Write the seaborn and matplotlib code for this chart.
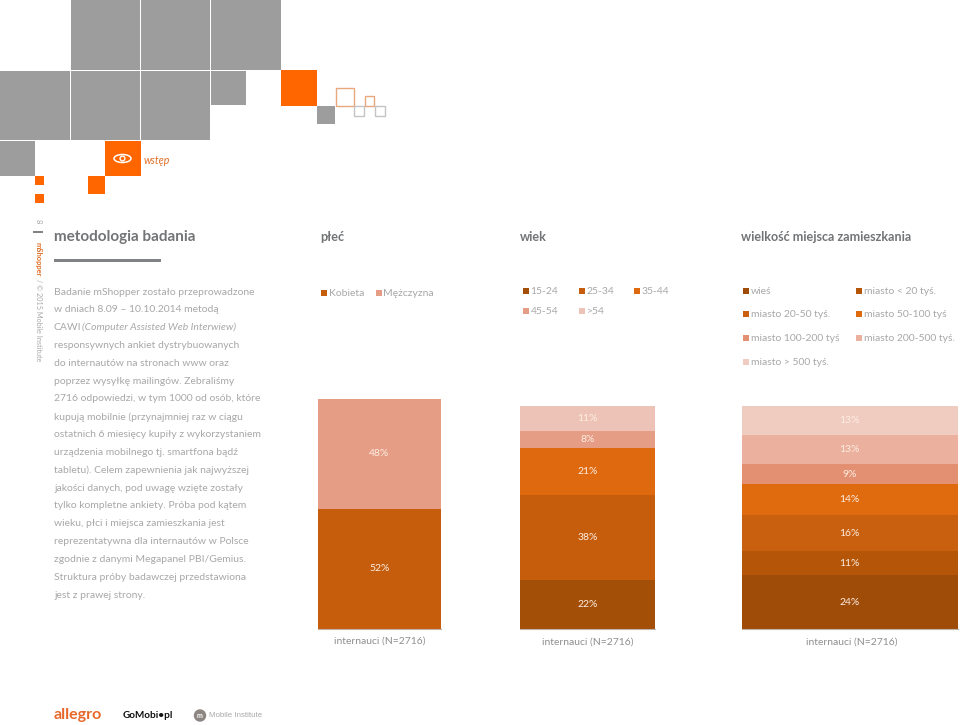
import matplotlib
matplotlib.use('Agg')
import matplotlib.pyplot as plt
from matplotlib.patches import Rectangle, Ellipse, Circle
from matplotlib.transforms import ScaledTranslation
import seaborn as sns

W, H = 960, 725

# values, bottom segment first
plec_labels = ['Kobieta', 'Mężczyzna']
plec_values = [52, 48]
plec_colors = ['#c55d0c', '#e59d85']

wiek_labels = ['15-24', '25-34', '35-44', '45-54', '>54']
wiek_values = [22, 38, 21, 8, 11]
wiek_colors = ['#a44f08', '#c55d0c', '#df690f', '#e59d85', '#eec3b7']

miejsce_labels = ['wieś', 'miasto < 20 tyś.', 'miasto 20-50 tyś.', 'miasto 50-100 tyś',
                  'miasto 100-200 tyś', 'miasto 200-500 tyś.', 'miasto > 500 tyś.']
miejsce_values = [24, 11, 16, 14, 9, 13, 13]
miejsce_colors = ['#9e4c08', '#b45508', '#c9600f', '#e06a0e', '#e38f72', '#ebb09e', '#f0cbbf']

sample_label = 'internauci (N=2716)'

body_lines = [
    'Badanie mShopper zostało przeprowadzone',
    'w dniach 8.09 – 10.10.2014 metodą',
    'CAWI',
    'responsywnych ankiet dystrybuowanych',
    'do internautów na stronach www oraz',
    'poprzez wysyłkę mailingów. Zebraliśmy',
    '2716 odpowiedzi, w tym 1000 od osób, które',
    'kupują mobilnie (przynajmniej raz w ciągu',
    'ostatnich 6 miesięcy kupiły z wykorzystaniem',
    'urządzenia mobilnego tj. smartfona bądź',
    'tabletu). Celem zapewnienia jak najwyższej',
    'jakości danych, pod uwagę wzięte zostały',
    'tylko kompletne ankiety. Próba pod kątem',
    'wieku, płci i miejsca zamieszkania jest',
    'reprezentatywna dla internautów w Polsce',
    'zgodnie z danymi Megapanel PBI/Gemius.',
    'Struktura próby badawczej przedstawiona',
    'jest z prawej strony.',
]

sns.set_theme(style='white')
plt.rcParams['font.family'] = ['Lato', 'DejaVu Sans']

GREY = '#9d9d9d'
ORANGE = '#ff6600'
TXT = '#a8a8a8'
HEAD = '#727476'
SIZE = 7.5

fig = plt.figure(figsize=(W / 100, H / 100), dpi=100, facecolor='white')

# page layer in pixel coordinates
bg = fig.add_axes([0, 0, 1, 1])
bg.set_xlim(0, W)
bg.set_ylim(H, 0)
bg.axis('off')


def box(x0, y0, x1, y1, color, fill=True, lw=0):
    if fill:
        bg.add_patch(Rectangle((x0, y0), x1 - x0, y1 - y0, facecolor=color, edgecolor='none'))
    else:
        bg.add_patch(Rectangle((x0, y0), x1 - x0, y1 - y0, facecolor='none', edgecolor=color, lw=lw))


for b in [(70.5, 0, 140, 70), (140.5, 0, 210, 70), (211, 0, 281, 70),
          (0, 70.5, 69.5, 140), (70.5, 70.5, 140, 140), (140.5, 70.5, 210, 140),
          (211, 70.5, 245.5, 105), (0, 141, 35, 176), (317, 106, 335, 124)]:
    box(*b, GREY)
for b in [(281, 70, 317, 105.5), (105, 141, 140.5, 176), (87.5, 176, 105, 193.5),
          (35, 176, 44, 185), (35, 194, 44, 203)]:
    box(*b, ORANGE)
box(335.5, 87.5, 353.5, 105.5, '#e9a77c', fill=False, lw=1)
box(364.5, 96, 374, 105.5, '#e9a77c', fill=False, lw=1)
box(354, 105.5, 364, 115.5, '#c4c4c4', fill=False, lw=1)
box(374.5, 105.5, 384.5, 115.5, '#c4c4c4', fill=False, lw=1)
bg.add_patch(Ellipse((122.5, 158.5), 17, 8, facecolor='none', edgecolor='white', lw=1.1))
bg.add_patch(Circle((122.5, 158.5), 2.4, facecolor='none', edgecolor='white', lw=1))
bg.text(144, 160, 'wstęp', color='#e0702a', fontsize=7.7, style='italic', va='center')

# side strip
bg.text(38, 221, '8', color='#a8a8a8', fontsize=5.5, rotation=-90, ha='center', va='center')
box(33, 231, 43, 233, '#808285')
bg.text(38, 242, 'mShopper', color='#e0702a', fontsize=5.4, fontweight='bold', rotation=-90,
        ha='center', va='top')
bg.text(38, 279, '/ © 2015 Mobile Institute', color='#a8a8a8', fontsize=5.2, rotation=-90,
        ha='center', va='top')

# headers
bg.text(54, 237, 'metodologia badania', color=HEAD, fontsize=11, fontweight='bold', va='center')
box(54, 259, 160.5, 261.5, '#808285')
bg.text(320.5, 236.5, 'płeć', color=HEAD, fontsize=9.1, fontweight='bold', va='center')
bg.text(520, 236.5, 'wiek', color=HEAD, fontsize=9.1, fontweight='bold', va='center')
bg.text(741, 236.5, 'wielkość miejsca zamieszkania', color=HEAD, fontsize=9.1, fontweight='bold', va='center')

# body copy
for i, line in enumerate(body_lines):
    bg.text(54, 292 + i * 17.83, line, color=TXT, fontsize=SIZE, va='center')
bg.text(82, 292 + 2 * 17.83, '(Computer Assisted Web Interwiew)', color=TXT, fontsize=SIZE,
        style='italic', va='center')


def legend_items(labels, colors, spots):
    for label, color, (sx, sy) in zip(labels, colors, spots):
        box(sx, sy - 3, sx + 6, sy + 3, color)
        bg.text(sx + 8, sy, label, color=TXT, fontsize=SIZE, va='center')


legend_items(plec_labels, plec_colors, [(321, 293), (375.5, 293)])
legend_items(wiek_labels, wiek_colors,
             [(522.5, 291), (578.5, 291), (634, 291), (522.5, 311), (578.5, 311)])
legend_items(miejsce_labels, miejsce_colors,
             [(743, 291), (856, 291), (743, 314), (856, 314), (743, 338), (856, 338), (743, 362)])


def stacked(x0, x1, y0, y1, values, colors, label_dx=0):
    ax = fig.add_axes([x0 / W, 1 - y1 / H, (x1 - x0) / W, (y1 - y0) / H])
    ax.patch.set_alpha(0)
    bottom = 0
    for value, color in zip(values, colors):
        sns.barplot(x=[sample_label], y=[value], bottom=bottom, width=1, color=color,
                    saturation=1, linewidth=0, ax=ax)
        ax.text(0, bottom + value / 2, f'{value}%', color='#fdeee2', fontsize=SIZE,
                ha='center', va='center', zorder=5)
        bottom += value
    ax.set_xlim(-0.5, 0.5)
    ax.set_ylim(0, 100)
    ax.set_ylabel('')
    ax.set_yticks([])
    ax.tick_params(axis='x', length=0, pad=6, labelsize=7.5, colors='#8f8f8f')
    for lab in ax.get_xticklabels():
        lab.set_transform(lab.get_transform() + ScaledTranslation(label_dx / 100, 0, fig.dpi_scale_trans))
    sns.despine(ax=ax, left=True)
    ax.spines['bottom'].set_color('#bdb3aa')
    ax.spines['bottom'].set_linewidth(0.8)
    return ax


stacked(318, 441, 398.5, 628.5, plec_values, plec_colors)
stacked(519.5, 655, 406, 629, wiek_values, wiek_colors)
stacked(741.5, 958, 406, 629, miejsce_values, miejsce_colors, label_dx=2.5)

# footer marks
bg.text(54, 715, 'allegro', color='#e8682a', fontsize=11.5, fontweight='bold', va='center')
bg.text(123, 715.5, 'GoMobi•pl', color='#111111', fontsize=7.2, fontweight='bold', va='center')
bg.add_patch(Circle((200, 715.5), 6.2, facecolor='#8c8582', edgecolor='none'))
bg.text(200, 715.5, 'm', color='white', fontsize=5, ha='center', va='center', fontweight='bold')
bg.text(209, 715.5, 'Mobile Institute', color='#a9a9a9', fontsize=5.7, family='Liberation Sans', va='center')

fig.savefig('out.png', dpi=100)
